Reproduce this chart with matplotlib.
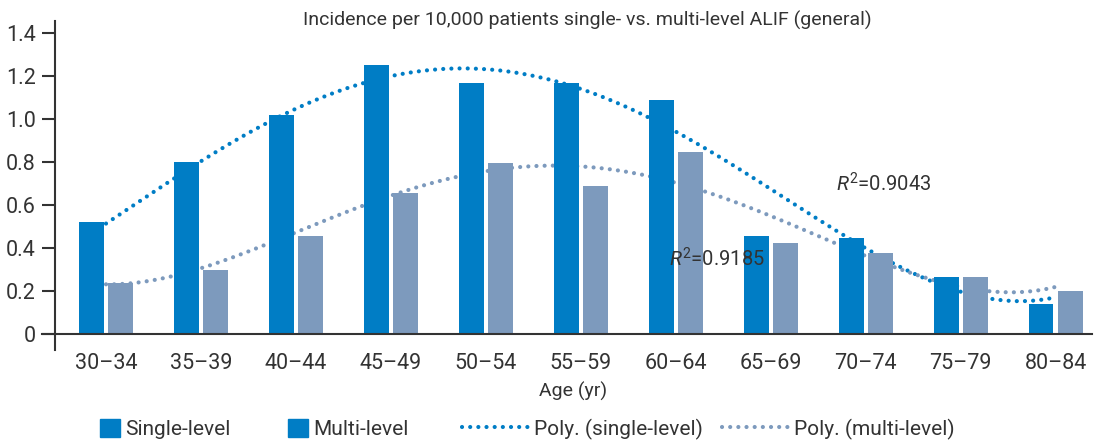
import matplotlib
matplotlib.use("Agg")
import matplotlib.pyplot as plt
from matplotlib.patches import Patch
from matplotlib.lines import Line2D
import numpy as np

age_groups = ["30–34", "35–39", "40–44", "45–49", "50–54", "55–59",
              "60–64", "65–69", "70–74", "75–79", "80–84"]
single_level = [0.52, 0.80, 1.02, 1.25, 1.167, 1.167, 1.088, 0.456, 0.447, 0.265, 0.14]
multi_level = [0.237, 0.30, 0.456, 0.656, 0.795, 0.69, 0.846, 0.423, 0.377, 0.265, 0.20]
r2_single = "0.9043"
r2_multi = "0.9185"

plt.rcParams["font.family"] = ["Roboto", "DejaVu Sans"]
plt.rcParams["mathtext.fontset"] = "custom"
plt.rcParams["mathtext.it"] = "Roboto:italic"
plt.rcParams["mathtext.rm"] = "Roboto"

BLUE = "#007dc5"
GREY = "#7d9abd"
TXT = "#333333"

fig = plt.figure(figsize=(10.97, 4.44), dpi=100)
ax = fig.add_axes([55 / 1097, 1 - 350 / 444, 1037 / 1097, 329 / 444])

x = np.arange(len(age_groups))
w = 0.263
ax.bar(x - 0.153, single_level, w, color=BLUE, zorder=3)
ax.bar(x + 0.153, multi_level, w, color=GREY, zorder=3)

# polynomial trendlines (order 4), drawn behind the bars
xs = np.linspace(0, len(x) - 1, 300)
cs = np.polyfit(x, single_level, 4)
cm = np.polyfit(x, multi_level, 4)
dots = dict(lw=3.0, linestyle=(0, (0.01, 1.95)), dash_capstyle="round", zorder=2)
ax.plot(xs, np.polyval(cs, xs), color=BLUE, **dots)
ax.plot(xs, np.polyval(cm, xs), color=GREY, **dots)

ax.text(7.69, 0.70, r"$R^2$=" + r2_single, fontsize=14.5, color=TXT, va="center")
ax.text(5.93, 0.35, r"$R^2$=" + r2_multi, fontsize=14.5, color=TXT, va="center")

ax.set_xlim(-0.537, 10.384)
ax.set_ylim(-0.0744, 1.456)
ax.set_yticks(np.arange(0, 1.41, 0.2))
ax.set_yticklabels(["0", "0.2", "0.4", "0.6", "0.8", "1.0", "1.2", "1.4"])
ax.set_xticks(x)
ax.set_xticklabels(age_groups)
ax.tick_params(axis="y", length=9.4, width=1.5, color=TXT, labelsize=15.5,
               labelcolor=TXT, pad=4.3)
ax.tick_params(axis="x", length=0, labelsize=15.5, labelcolor=TXT, pad=2)
for s in ("top", "right", "bottom"):
    ax.spines[s].set_visible(False)
ax.spines["left"].set_linewidth(1.5)
ax.spines["left"].set_color(TXT)
ax.axhline(0, xmin=-13 / 1037, xmax=1, color=TXT, lw=1.5, clip_on=False, zorder=4)

ax.set_xlabel("Age (yr)", fontsize=14, color=TXT, labelpad=6)
fig.text(587 / 1097, 1 - 20 / 444, "Incidence per 10,000 patients single- vs. multi-level ALIF (general)",
         ha="center", va="center", fontsize=14, color=TXT)

leg_y = 1 - 429 / 444
items = [
    (100, Patch(color=BLUE), "Single-level", 0.95),
    (288, Patch(color=BLUE), "Multi-level", 0.95),
    (462, Line2D([], [], color=BLUE, **dots), "Poly. (single-level)", 3.2),
    (722, Line2D([], [], color=GREY, **dots), "Poly. (multi-level)", 3.2),
]
for px, h, lab, hl in items:
    fig.legend([h], [lab], loc="center left", bbox_to_anchor=(px / 1097, leg_y),
               frameon=False, fontsize=15, handlelength=hl, handleheight=0.95,
               handletextpad=0.25, borderpad=0, borderaxespad=0, labelcolor=TXT)

fig.savefig("out.png", dpi=100)
